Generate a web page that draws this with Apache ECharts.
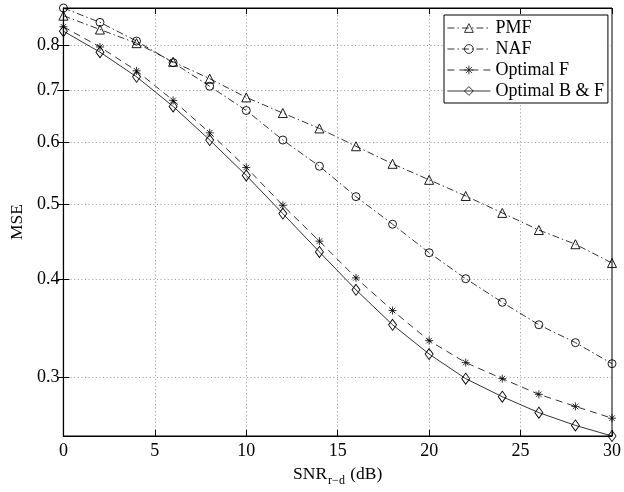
<!DOCTYPE html>
<html><head><meta charset="utf-8">
<script src="https://cdn.jsdelivr.net/npm/echarts@6/dist/echarts.min.js"></script>
<style>html,body{margin:0;padding:0;background:#fff}#c{width:624px;height:492px}</style>
</head><body><div id="c"></div>
<script>
const snr = [0, 2, 4, 6, 8, 10, 12, 14, 16, 18, 20, 22, 24, 26, 28, 30];
const pmf = [0.872, 0.837, 0.804, 0.761, 0.724, 0.685, 0.654, 0.625, 0.593, 0.563, 0.537, 0.512, 0.487, 0.463, 0.444, 0.420];
const naf = [0.892, 0.855, 0.809, 0.759, 0.708, 0.659, 0.604, 0.559, 0.511, 0.471, 0.433, 0.401, 0.374, 0.350, 0.332, 0.312];
const optF = [0.844, 0.795, 0.741, 0.679, 0.617, 0.557, 0.498, 0.448, 0.402, 0.365, 0.334, 0.313, 0.2985, 0.285, 0.275, 0.2656];
const optBF = [0.833, 0.783, 0.728, 0.667, 0.604, 0.544, 0.486, 0.434, 0.388, 0.350, 0.321, 0.2985, 0.283, 0.270, 0.260, 0.252];
const yTicks = [0.3, 0.4, 0.5, 0.6, 0.7, 0.8];
const seriesNames = ['PMF', 'NAF', 'Optimal F', 'Optimal B & F'];

const FONT = "'Liberation Serif','Times New Roman',serif";
const STAR = 'path://M0,-10L0,10M-10,0L10,0M-7.07,-7.07L7.07,7.07M-7.07,7.07L7.07,-7.07';

function pairs(vals) { return snr.map((x, i) => [x, vals[i]]); }
function mk(name, vals, symbol, size, dash, bw) {
  return {
    name: name, type: 'line', data: pairs(vals), clip: false,
    symbol: symbol, symbolSize: size, showAllSymbol: true,
    lineStyle: { color: '#000', width: 0.8, type: dash },
    itemStyle: { color: 'rgba(255,255,255,0)', borderColor: '#000', borderWidth: bw },
    emphasis: { disabled: true },
    animation: false
  };
}

const chart = echarts.init(document.getElementById('c'), null, { renderer: 'canvas' });
const gridLine = { show: true, lineStyle: { color: '#808080', width: 0.8, type: [1, 2.6] } };
chart.setOption({
  backgroundColor: '#fff',
  animation: false,
  textStyle: { fontFamily: FONT },
  grid: { left: 57, right: 11, top: 8, bottom: 48, show: true, borderColor: '#000', borderWidth: 1 },
  legend: {
    data: seriesNames, orient: 'vertical', left: 444, top: 15,
    padding: [4, 4, 3, 3], itemGap: 3, itemWidth: 43, itemHeight: 11,
    backgroundColor: '#fff', borderColor: '#000', borderWidth: 1,
    itemStyle: { borderWidth: 0.8 },
    lineStyle: { width: 0.8 },
    textStyle: { fontFamily: FONT, fontSize: 18, color: '#000', lineHeight: 18 },
    selectedMode: false
  },
  xAxis: [{
    type: 'value', min: 0, max: 30, interval: 5, position: 'bottom',
    name: '{a|SNR}{b|r\u2212d}{a| (dB)}', nameLocation: 'middle', nameGap: 25,
    nameTextStyle: { rich: {
      a: { fontFamily: FONT, fontSize: 17.5, color: '#000' },
      b: { fontFamily: FONT, fontSize: 12, color: '#000', padding: [14, 1, 0, 1] }
    } },
    axisLine: { show: true, lineStyle: { color: '#000', width: 1.2 } },
    axisTick: { show: true, inside: true, length: 6, lineStyle: { color: '#000' } },
    axisLabel: { fontFamily: FONT, fontSize: 18, color: '#000', margin: 6 },
    splitLine: gridLine
  }, {
    type: 'value', min: 0, max: 30, interval: 5, position: 'top',
    axisLine: { show: true, lineStyle: { color: '#000', width: 1 } },
    axisTick: { show: true, inside: true, length: 6, lineStyle: { color: '#000' } },
    axisLabel: { show: false }, splitLine: { show: false }
  }],
  yAxis: [{
    type: 'log', logBase: 10, min: 0.252, max: 0.892, position: 'left',
    name: 'MSE', nameLocation: 'middle', nameGap: 32,
    nameTextStyle: { fontFamily: FONT, fontSize: 17.5, color: '#000' },
    axisLine: { show: true, lineStyle: { color: '#000', width: 1.2 } },
    axisTick: { show: true, inside: true, length: 6, lineStyle: { color: '#000' }, customValues: yTicks },
    axisLabel: { fontFamily: FONT, fontSize: 18, color: '#000', margin: 4, customValues: yTicks,
      formatter: v => (+v).toFixed(1) },
    splitLine: gridLine
  }, {
    type: 'log', logBase: 10, min: 0.252, max: 0.892, position: 'right',
    axisLine: { show: true, lineStyle: { color: '#000', width: 1 } },
    axisTick: { show: true, inside: true, length: 6, lineStyle: { color: '#000' }, customValues: yTicks },
    axisLabel: { show: false }, splitLine: { show: false }
  }],
  series: [
    mk('PMF', pmf, 'triangle', 9, [7, 3, 1.5, 3], 0.9),
    mk('NAF', naf, 'circle', 8, [7, 3, 1.5, 3], 0.9),
    mk('Optimal F', optF, STAR, 8, [7, 5], 0.8),
    mk('Optimal B & F', optBF, 'diamond', [8, 11], 'solid', 0.9)
  ]
});
</script></body></html>
